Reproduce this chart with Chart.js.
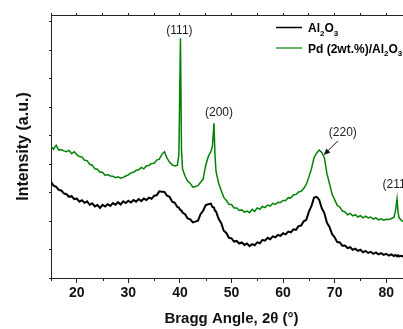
<!DOCTYPE html>
<html>
<head>
<meta charset="utf-8">
<script src="https://cdn.jsdelivr.net/npm/chart.js@4.4.1/dist/chart.umd.min.js"></script>
<style>
  html, body { margin: 0; padding: 0; background: #fff; overflow: hidden; }
  #wrap { width: 412px; height: 329px; }
</style>
</head>
<body>
<div id="wrap"><canvas id="chart" width="412" height="329"></canvas></div>
<script>
/* DATA */
const angle = [15,15.5,16,16.5,17,17.5,18,18.5,19,19.5,20,20.5,21,21.5,22,22.5,23,23.5,24,24.5,
  25,25.5,26,26.5,27,27.5,28,28.5,29,29.5,30,30.5,31,31.5,32,32.5,33,33.5,34,34.5,
  35,35.5,36,36.5,37,37.5,38,38.5,39,39.5,
  39.8,40.1,40.3,40.5,
  41,41.5,42,42.5,43,43.5,44,44.5,45,45.5,46,
  46.3,46.6,46.8,
  47,47.5,48,48.5,49,49.5,50,50.5,51,51.5,52,52.5,53,53.5,54,54.5,55,55.5,56,56.5,
  57,57.5,58,58.5,59,59.5,60,60.5,61,61.5,62,62.5,63,63.5,64,64.5,65,65.5,66,66.5,
  67,67.5,68,68.5,69,69.5,70,70.5,71,71.5,72,72.5,73,73.5,74,74.5,75,75.5,76,76.5,
  77,77.5,78,78.5,79,79.5,80,80.5,81,81.5,
  81.8,82.1,82.3,
  82.5,83,83.5,84,84.5,85];

const alumina = [338,324,320,309,307,297,294,285,287,277,279,268,273,264,269,257,262,251,256,246,
  257,251,259,253,263,257,266,258,269,263,271,265,274,268,277,270,279,274,282,278,
  289,290,304,303,302,289,285,268,264,249,
  247,238,237,230,
  224,209,206,195,198,201,224,236,256,259,261,
  249,247,236,
  234,208,193,166,158,141,139,128,130,121,125,116,121,112,119,115,125,122,134,131,
  141,136,146,143,151,148,157,153,163,160,171,169,182,184,199,204,233,252,282,285,
  275,245,228,194,179,154,143,126,125,113,114,105,108,99,103,95,99,90,95,88,
  92,85,90,83,87,81,85,79,83,77,
  81,76,80,
  76,78,73,76,71,73];

const pdAlumina = [463,452,466,449,451,446,443,448,436,443,433,426,425,413,412,399,396,383,382,371,
  371,360,363,358,357,352,355,350,353,358,362,369,371,378,380,388,383,394,395,402,
  403,414,417,434,443,421,406,397,393,396,
  432,841,452,383,
  357,340,332,319,321,324,336,347,396,426,444,
  462,543,430,
  374,333,307,283,272,259,258,246,246,237,239,231,235,229,241,234,246,241,251,247,
  256,252,262,258,266,265,272,272,282,281,292,293,302,304,314,328,354,383,422,438,
  449,441,423,367,331,295,275,255,249,235,232,222,227,218,222,214,219,211,217,211,
  214,207,211,204,208,203,206,205,209,213,
  236,278,230,
  211,201,199,196,198,195];

const xMajor = [20, 30, 40, 50, 60, 70, 80];
const xMinor = [15, 25, 35, 45, 55, 65, 75, 85];
const xTop = [15, 20, 25, 30, 35, 40, 45, 50, 55, 60, 65, 70, 75, 80, 85];
const yTicks = [0, 100, 200, 300, 400, 500, 600, 700, 800, 900];

const peakNames = ["(111)", "(200)", "(220)", "(211)"];
const peakAngles = [40.1, 46.6, 67.9, 82.1];
const peakHeights = [841, 543, 432, 278];

const FONT = "'Liberation Sans', Arial, Helvetica, sans-serif";

/* PEAK LABELS */
const labelOffset = [[-1, -8], [5, -11], [19, -22], [-1, -14]];

const peakPlugin = {
  id: "peaks",
  afterDatasetsDraw(chart) {
    const { ctx, scales: { x, y } } = chart;
    ctx.save();
    ctx.font = "12px " + FONT;
    ctx.fillStyle = "#222";
    ctx.textAlign = "center";
    ctx.textBaseline = "middle";
    peakNames.forEach((name, i) => {
      const px = x.getPixelForValue(peakAngles[i]);
      const py = y.getPixelForValue(peakHeights[i]);
      ctx.fillText(name, px + labelOffset[i][0], py + labelOffset[i][1]);
      if (name === "(220)") {
        // arrow pointing at the peak
        const tx = px + 14, ty = py - 14;
        ctx.strokeStyle = "#111";
        ctx.lineWidth = 1;
        ctx.beginPath();
        ctx.moveTo(tx, ty);
        ctx.lineTo(px + 3, py - 3);
        ctx.stroke();
        ctx.fillStyle = "#111";
        ctx.beginPath();
        ctx.moveTo(px, py);
        ctx.lineTo(px + 6.5, py - 2.5);
        ctx.lineTo(px + 2.5, py - 6.5);
        ctx.closePath();
        ctx.fill();
        ctx.fillStyle = "#222";
      }
    });
    ctx.restore();
  }
};

/* LEGEND + MINOR TICKS */
function richText(ctx, parts, x, y) {
  parts.forEach(([txt, sub]) => {
    ctx.font = (sub ? "bold 8px " : "bold 12px ") + FONT;
    ctx.fillText(txt, x, sub ? y + 3.5 : y);
    x += ctx.measureText(txt).width;
  });
}

const legendRows = [
  { color: "#000000", parts: [["Al", 0], ["2", 1], ["O", 0], ["3", 1]] },
  { color: "#008000", parts: [["Pd (2wt.%)/Al", 0], ["2", 1], ["O", 0], ["3", 1]] }
];

const extrasPlugin = {
  id: "extras",
  afterDraw(chart) {
    const { ctx, scales: { x }, chartArea } = chart;
    ctx.save();
    // minor ticks on bottom axis
    ctx.strokeStyle = "#222";
    ctx.lineWidth = 1;
    xMinor.forEach(v => {
      const px = Math.round(x.getPixelForValue(v)) + 0.5;
      ctx.beginPath();
      ctx.moveTo(px, chartArea.bottom);
      ctx.lineTo(px, chartArea.bottom + 3);
      ctx.stroke();
    });
    // legend
    ctx.textAlign = "left";
    ctx.textBaseline = "alphabetic";
    legendRows.forEach((row, i) => {
      const ly = 27.5 + i * 20.5;
      ctx.strokeStyle = row.color;
      ctx.lineWidth = i === 0 ? 1.5 : 1.2;
      ctx.beginPath();
      ctx.moveTo(276, ly);
      ctx.lineTo(302, ly);
      ctx.stroke();
      ctx.fillStyle = "#000";
      richText(ctx, row.parts, 308, ly + 4.5);
    });
    ctx.restore();
  }
};

/* CHART */
const ctx = document.getElementById("chart");

new Chart(ctx, {
  type: "line",
  data: {
    datasets: [
      {
        label: "Al2O3",
        data: angle.map((a, i) => ({ x: a, y: alumina[i] })),
        borderColor: "#000000",
        borderWidth: 2,
        pointRadius: 0,
        tension: 0
      },
      {
        label: "Pd (2wt.%)/Al2O3",
        data: angle.map((a, i) => ({ x: a, y: pdAlumina[i] })),
        borderColor: "#008000",
        borderWidth: 1.5,
        pointRadius: 0,
        tension: 0
      }
    ]
  },
  options: {
    responsive: false,
    animation: false,
    devicePixelRatio: 1,
    layout: { padding: 0 },
    plugins: { legend: { display: false }, tooltip: { enabled: false } },
    scales: {
      x: {
        type: "linear",
        position: "bottom",
        min: 15,
        max: 85,
        afterBuildTicks: s => { s.ticks = xMajor.map(v => ({ value: v })); },
        afterFit: s => { s.height = 51; },
        grid: { drawOnChartArea: false, drawTicks: true, tickLength: 5, tickColor: "#222" },
        border: { display: true, color: "#222", width: 1 },
        ticks: { font: { family: FONT, size: 14, weight: "bold" }, color: "#111", padding: 2, maxRotation: 0 },
        title: {
          display: true,
          text: "Bragg Angle, 2θ (°)",
          font: { family: FONT, size: 15, weight: "bold" },
          color: "#111",
          padding: { top: 0, bottom: 1 }
        }
      },
      x2: {
        type: "linear",
        position: "top",
        min: 15,
        max: 85,
        afterBuildTicks: s => { s.ticks = xTop.map(v => ({ value: v })); },
        afterFit: s => { s.height = 15; },
        grid: { drawOnChartArea: false, drawTicks: true, tickLength: 2, tickColor: "#222" },
        border: { display: true, color: "#222", width: 1 },
        ticks: { display: false }
      },
      y: {
        type: "linear",
        min: 0,
        max: 923,
        afterBuildTicks: s => { s.ticks = yTicks.map(v => ({ value: v })); },
        afterFit: s => { s.width = 51; },
        grid: { drawOnChartArea: false, drawTicks: true, tickLength: 2, tickColor: "#222" },
        border: { display: true, color: "#222", width: 1 },
        ticks: { display: false },
        title: {
          display: true,
          text: "Intensity (a.u.)",
          font: { family: FONT, size: 16, weight: "bold" },
          color: "#111",
          padding: { top: 14, bottom: 0 }
        }
      }
    }
  },
  plugins: [peakPlugin, extrasPlugin]
});
</script>
</body>
</html>
